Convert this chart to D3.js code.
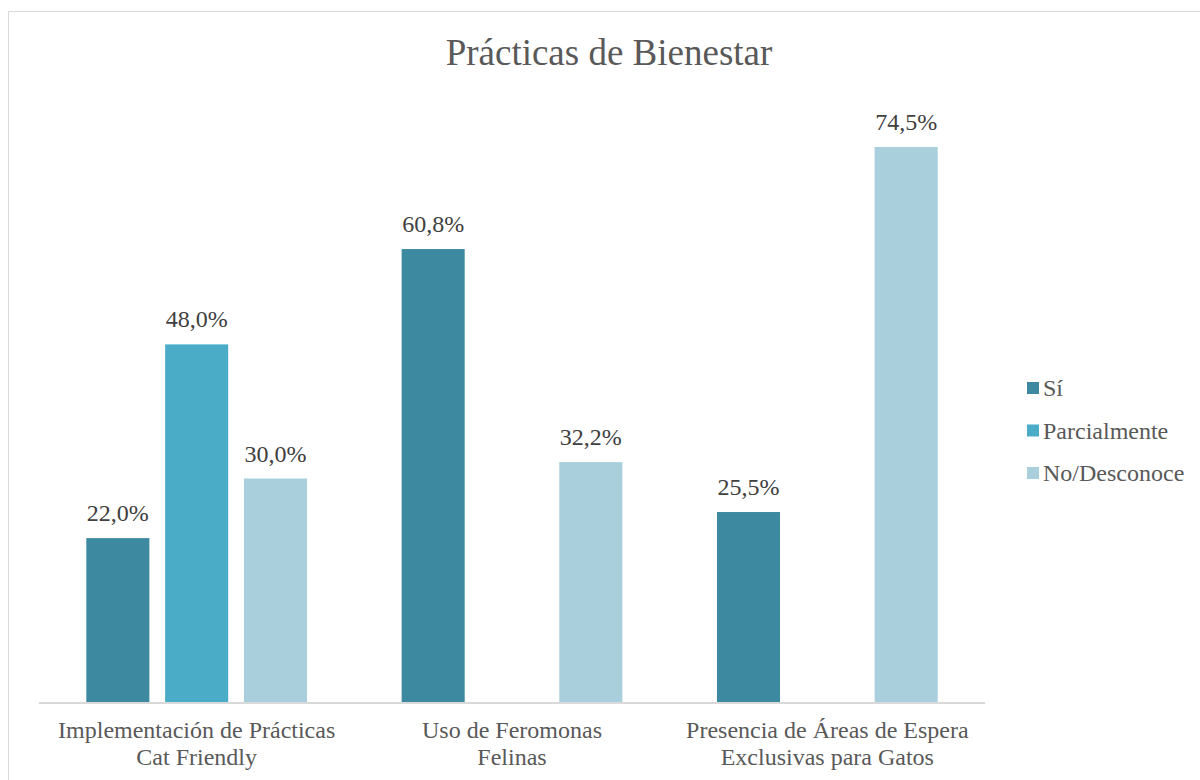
<!DOCTYPE html>
<html>
<head>
<meta charset="utf-8">
<script src="https://cdn.jsdelivr.net/npm/d3@7"></script>
<style>
  body { margin: 0; background: #fff; }
  text { font-family: "Liberation Serif", "Times New Roman", serif; fill: #595959; }
</style>
</head>
<body>
<svg id="svg" width="1200" height="780"></svg>
<script>
// chart data
var categories = [
	["Implementación de Prácticas", "Cat Friendly"],
	["Uso de Feromonas", "Felinas"],
	["Presencia de Áreas de Espera", "Exclusivas para Gatos"]
];
var seriesNames = ["Sí", "Parcialmente", "No/Desconoce"];
var valuesSi = [22.0, 60.8, 25.5];
var valuesParcial = [48.0, null, null];
var valuesNo = [30.0, 32.2, 74.5];
var seriesColors = ["#3d8aa0", "#4aacc6", "#a9cfdd"];

var svg = d3.select("#svg");

var margin = {left: 39, right: 215, top: 106, bottom: 78};
var width = +svg.attr("width");
var height = +svg.attr("height");
var baseY = height - margin.bottom;   // 702

// chart frame
svg.append('rect')
	.attr('x', 8.5)
	.attr('y', 11.5)
	.attr('width', 1300)
	.attr('height', 900)
	.style('fill', 'none')
	.style('stroke', '#d9d9d9');

svg.append('text')
	.attr('x', 609)
	.attr('y', 65)
	.attr('text-anchor', 'middle')
	.style('font-size', '37px')
	.text("Prácticas de Bienestar");

var allSeries = [valuesSi, valuesParcial, valuesNo];

var x0 = d3.scaleBand()
	.domain(d3.range(categories.length))
	.range([margin.left, width - margin.right])   // 39 .. 985
	.paddingInner(0)
	.paddingOuter(0);

var x1 = d3.scaleBand()
	.domain(d3.range(seriesNames.length))
	.range([0, x0.bandwidth()])
	.paddingInner(0.2)
	.paddingOuter(0.6);

var y = d3.scaleLinear()
	.domain([0, 80])
	.range([baseY, margin.top]);

// flatten into bar records
var bars = [];
categories.forEach(function(c, i){
	allSeries.forEach(function(s, j){
		if (s[i] != null) bars.push({cat: i, ser: j, value: s[i]});
	});
});

var barG = svg.append('g');
barG.selectAll('.bar')
	.data(bars)
	.enter().append('rect')
	.classed('bar', true)
	.attr('x', d => x0(d.cat) + x1(d.ser))
	.attr('y', d => y(d.value))
	.attr('width', x1.bandwidth())
	.attr('height', d => y(0) - y(d.value))
	.style('fill', d => seriesColors[d.ser]);

barG.selectAll('.lbl')
	.data(bars)
	.enter().append('text')
	.classed('lbl', true)
	.attr('x', d => x0(d.cat) + x1(d.ser) + x1.bandwidth() / 2)
	.attr('y', d => y(d.value) - 17)
	.attr('text-anchor', 'middle')
	.style('font-size', '24px')
	.style('fill', '#404040')
	.text(d => d.value.toFixed(1).replace('.', ',') + '%');

// x axis line
svg.append('line')
	.attr('x1', x0.range()[0])
	.attr('x2', x0.range()[1])
	.attr('y1', baseY + 1)
	.attr('y2', baseY + 1)
	.style('stroke', '#d9d9d9')
	.style('stroke-width', 2);

// category labels (two lines)
var catG = svg.append('g');
categories.forEach(function(c, i){
	var t = catG.append('text')
		.attr('text-anchor', 'middle')
		.style('font-size', '24px');
	c.forEach(function(line, k){
		t.append('tspan')
			.attr('x', x0(i) + x0.bandwidth() / 2)
			.attr('y', baseY + 36 + k * 27)
			.text(line);
	});
});

// legend
var legend = svg.append('g').attr('transform', 'translate(1027,388)');
var items = legend.selectAll('.leg')
	.data(seriesNames)
	.enter().append('g')
	.attr('transform', (d, i) => 'translate(0,' + (i * 42.5) + ')');
items.append('rect')
	.attr('x', 0)
	.attr('y', -6)
	.attr('width', 12)
	.attr('height', 12)
	.style('fill', (d, i) => seriesColors[i]);
items.append('text')
	.attr('x', 16)
	.attr('y', 8)
	.style('font-size', '24px')
	.text(d => d);
</script>
</body>
</html>
